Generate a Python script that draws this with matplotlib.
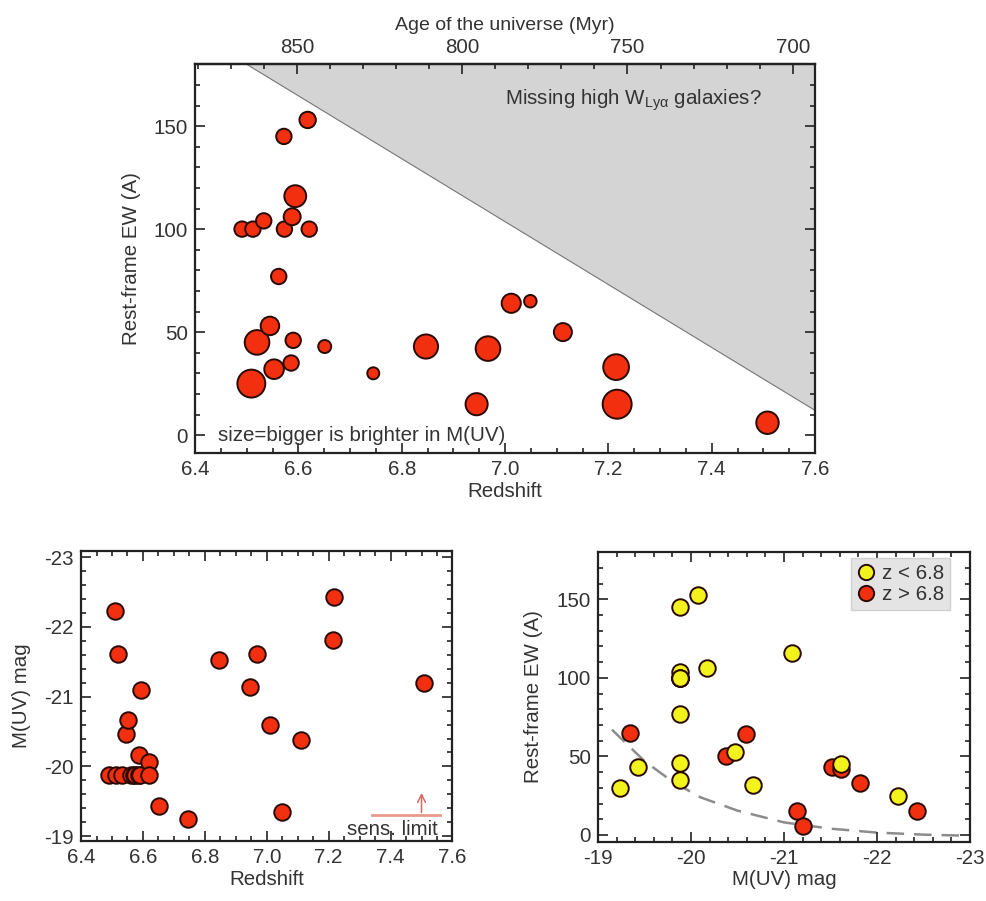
import matplotlib
matplotlib.use("Agg")
import matplotlib.pyplot as plt
import numpy as np
from matplotlib.ticker import MultipleLocator
from matplotlib.lines import Line2D

plt.rcParams['font.family'] = ['Liberation Sans', 'DejaVu Sans']
plt.rcParams['mathtext.fontset'] = 'custom'
plt.rcParams['mathtext.rm'] = 'Liberation Sans'
plt.rcParams['axes.unicode_minus'] = False
plt.rcParams['text.color'] = '#333333'
plt.rcParams['axes.labelcolor'] = '#333333'
plt.rcParams['xtick.color'] = '#222222'
plt.rcParams['ytick.color'] = '#222222'
plt.rcParams['xtick.labelcolor'] = '#333333'
plt.rcParams['ytick.labelcolor'] = '#333333'

# Lyman-alpha emitters: redshift, rest-frame EW (A), absolute UV magnitude
redshift = [6.491, 6.509, 6.512, 6.520, 6.533, 6.545, 6.553, 6.562, 6.572,
            6.573, 6.586, 6.588, 6.590, 6.594, 6.618, 6.621, 6.651, 6.745,
            6.847, 6.945, 6.967, 7.012, 7.049, 7.112, 7.215, 7.217, 7.508]
ew_rest = [100, 25, 100, 45, 104, 53, 32, 77, 145,
           100, 35, 106, 46, 116, 153, 100, 43, 30,
           43, 15, 42, 64, 65, 50, 33, 15, 6]
m_uv = [-19.88, -22.23, -19.88, -21.61, -19.88, -20.47, -20.67, -19.88, -19.88,
        -19.88, -19.88, -20.17, -19.88, -21.09, -20.07, -19.88, -19.43, -19.24,
        -21.52, -21.14, -21.61, -20.59, -19.34, -20.38, -21.82, -22.43, -21.20]

# upper envelope of observed EW versus redshift
envelope_z = [6.50, 7.60]
envelope_ew = [180, 12]

# UV sensitivity limit of the sample
sens_z = [7.34, 7.56]
sens_mag = -19.30

# EW detection limit versus UV magnitude
lim_mag = [-19.15, -19.5, -19.8, -20.1, -20.5, -21.0, -21.5, -22.0, -22.5, -23.0]
lim_ew = [67, 47, 34, 24, 15.5, 8, 4, 1.5, 0.2, -0.5]

z_split = 6.8

z = np.array(redshift)
ew = np.array(ew_rest)
mag = np.array(m_uv)

RED = '#f2300f'
YELLOW = '#f2f21c'
EDGE = '#2a0a00'
FS = 14.8


def style_axes(ax):
    for sp in ax.spines.values():
        sp.set_linewidth(1.6)
        sp.set_color('#222222')
    ax.tick_params(which='both', direction='in', labelsize=FS, width=1.2)
    ax.tick_params(which='major', length=7, pad=5)
    ax.tick_params(which='minor', length=3.5)


fig = plt.figure(figsize=(9.86, 9.01), dpi=100)

# --- top: EW versus redshift, marker size scales with UV brightness
ax1 = fig.add_axes([0.1978, 0.4972, 0.6288, 0.4314])
ax1.fill_between(envelope_z, envelope_ew, 180, color='#d4d4d4', lw=0, zorder=0)
ax1.plot(envelope_z, envelope_ew, color='#777777', lw=0.8, zorder=1)
diam_px = 12 + 5.33 * (-19.24 - mag)
ax1.scatter(z, ew, s=(diam_px * 0.72) ** 2, color=RED, edgecolors=EDGE,
            linewidths=1.4, zorder=3)
ax1.set_xlim(6.4, 7.6)
ax1.set_ylim(-8.7, 180)
ax1.set_xticks([6.4, 6.6, 6.8, 7.0, 7.2, 7.4, 7.6])
ax1.set_xticklabels(['6.4', '6.6', '6.8', '7.0', '7.2', '7.4', '7.6'])
ax1.set_yticks([0, 50, 100, 150])
ax1.xaxis.set_minor_locator(MultipleLocator(0.05))
ax1.yaxis.set_minor_locator(MultipleLocator(10))
style_axes(ax1)
ax1.tick_params(which='both', top=False, right=True)
ax1.set_xlabel('Redshift', fontsize=FS, labelpad=2)
ax1.set_ylabel('Rest-frame EW (A)', fontsize=FS, labelpad=9)
ax1.text(7.497, 162.6, 'Missing high W$_{\\mathrm{Ly\u03b1}}$ galaxies?',
         fontsize=FS, ha='right', va='center')
ax1.text(0.037, 0.044, 'size=bigger is brighter in M(UV)', transform=ax1.transAxes,
         fontsize=FS, ha='left', va='center')


def z_to_age(x):
    return 850 - 156.25 * (np.asarray(x) - 6.597)


def age_to_z(t):
    return 6.597 + (850 - np.asarray(t)) / 156.25


sec = ax1.secondary_xaxis('top', functions=(z_to_age, age_to_z))
sec.set_xticks([850, 800, 750, 700])
sec.xaxis.set_minor_locator(MultipleLocator(10))
sec.tick_params(which='both', direction='in', labelsize=FS, width=1.2)
sec.tick_params(which='major', length=7, pad=5)
sec.tick_params(which='minor', length=3.5)
sec.spines['top'].set_linewidth(1.6)
sec.set_xlabel('Age of the universe (Myr)', fontsize=FS - 0.8, labelpad=6)

# --- bottom left: UV magnitude versus redshift
ax2 = fig.add_axes([0.0822, 0.0666, 0.3767, 0.3219])
ax2.scatter(z, mag, s=(16.5 * 0.72) ** 2, color=RED, edgecolors=EDGE,
            linewidths=1.4, zorder=3)
ax2.plot(sens_z, [sens_mag, sens_mag], color='#e89a8a', lw=2, zorder=2)
ax2.annotate('', xy=(7.50, -19.66), xytext=(7.50, sens_mag),
             arrowprops=dict(arrowstyle='->', color='#d46868', lw=1.1,
                             mutation_scale=14))
ax2.text(0.961, 0.022, 'sens. limit', transform=ax2.transAxes,
         fontsize=FS, ha='right', va='baseline')
ax2.set_xlim(6.4, 7.6)
ax2.set_ylim(-18.93, -23.09)
ax2.set_xticks([6.4, 6.6, 6.8, 7.0, 7.2, 7.4, 7.6])
ax2.set_xticklabels(['6.4', '6.6', '6.8', '7.0', '7.2', '7.4', '7.6'])
ax2.set_yticks([-23, -22, -21, -20, -19])
ax2.xaxis.set_minor_locator(MultipleLocator(0.05))
ax2.yaxis.set_minor_locator(MultipleLocator(0.2))
style_axes(ax2)
ax2.tick_params(which='both', top=True, right=True)
ax2.set_xlabel('Redshift', fontsize=FS, labelpad=2)
ax2.set_ylabel('M(UV) mag', fontsize=FS, labelpad=10)

# --- bottom right: EW versus UV magnitude, split by redshift
ax3 = fig.add_axes([0.6065, 0.0658, 0.3773, 0.3219])
hi = z > z_split
lo = ~hi
ax3.plot(lim_mag, lim_ew, color='#8c8c8c', lw=1.8, ls=(0, (7, 4)), zorder=1)
ax3.scatter(mag[hi], ew[hi], s=(16.5 * 0.72) ** 2, color=RED, edgecolors=EDGE,
            linewidths=1.4, zorder=3)
ax3.scatter(mag[lo], ew[lo], s=(16.5 * 0.72) ** 2, color=YELLOW, edgecolors=EDGE,
            linewidths=1.4, zorder=4)
ax3.set_xlim(-19, -23)
ax3.set_ylim(-4.3, 180.3)
ax3.set_xticks([-19, -20, -21, -22, -23])
ax3.set_yticks([0, 50, 100, 150])
ax3.xaxis.set_minor_locator(MultipleLocator(0.2))
ax3.yaxis.set_minor_locator(MultipleLocator(10))
style_axes(ax3)
ax3.tick_params(which='both', top=True, right=True)
ax3.set_xlabel('M(UV) mag', fontsize=FS, labelpad=2)
ax3.set_ylabel('Rest-frame EW (A)', fontsize=FS, labelpad=10)

handles = [
    Line2D([], [], ls='none', marker='o', markersize=11, markerfacecolor=YELLOW,
           markeredgecolor=EDGE, markeredgewidth=1.4, label='z < 6.8'),
    Line2D([], [], ls='none', marker='o', markersize=11, markerfacecolor=RED,
           markeredgecolor=EDGE, markeredgewidth=1.4, label='z > 6.8'),
]
leg = ax3.legend(handles=handles, loc='upper right', bbox_to_anchor=(0.946, 0.978),
                 borderaxespad=0, fontsize=FS, frameon=True, fancybox=False,
                 handletextpad=0.3, handlelength=0.9, borderpad=0.3,
                 labelspacing=0.1)
leg.get_frame().set_facecolor('#e4e4e4')
leg.get_frame().set_edgecolor('#d0d0d0')
leg.get_frame().set_alpha(1)

fig.savefig('out.png', dpi=100)
